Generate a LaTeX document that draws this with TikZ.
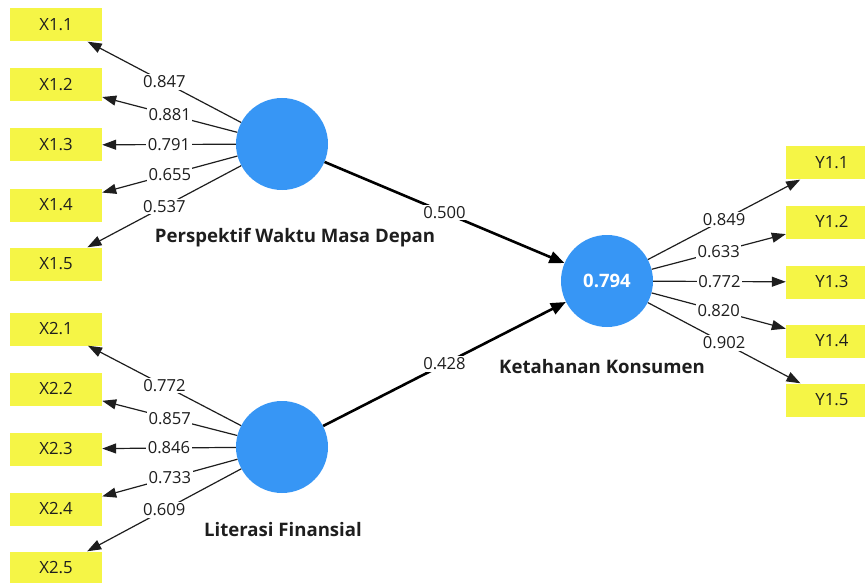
\documentclass[tikz,border=0pt]{standalone}
\usepackage{fontspec}
\setmainfont{Open Sans}
\usepackage{tikz}
\usepackage{xcolor}
\usetikzlibrary{arrows.meta,calc,positioning,shapes}
\definecolor{plsyellow}{RGB}{245,245,70}
\definecolor{plsblue}{RGB}{55,150,245}
\definecolor{plstext}{RGB}{30,30,30}
\tikzset{%
	indicator/.style = {fill=plsyellow, rectangle, minimum width=92pt, minimum height=33pt, text centered, text=plstext, font=\fontsize{16.8}{20}\selectfont},
	construct/.style = {fill=plsblue, circle, minimum size=92pt, inner sep=0pt, text=white, font=\bfseries\fontsize{18.5}{22}\selectfont},
	cname/.style     = {text=plstext, font=\bfseries\fontsize{18.6}{22}\selectfont},
	loading/.style   = {line width=1.2pt, draw=plstext, -{Triangle[length=14pt,width=10pt]}},
	path/.style      = {line width=2.6pt, draw=black, -{Triangle[length=15pt,width=12pt]}},
	coef/.style      = {midway, fill=white, inner sep=1.5pt, text=plstext, font=\fontsize{16.6}{20}\selectfont},
}
\begin{document}
\begin{tikzpicture}[x=1pt,y=-1pt]
	\useasboundingbox (0,0) rectangle (865,583);
	\clip (0,0) rectangle (865,583);
	% constructs
	\node[construct] (pwmd) at (282,144) {};
	\node[construct] (lf) at (282,447) {};
	\node[construct] (kk) at (607,281) {0.794};
	\node[cname] (pwmdname) at (295,238) {Perspektif Waktu Masa Depan};
	\node[cname] (lfname) at (283,530) {Literasi Finansial};
	\node[cname] (kkname) at (602,367) {Ketahanan Konsumen};
	% indicators
	\node[indicator] (x11) at (56,25) {X1.1};
	\node[indicator] (x12) at (56,85) {X1.2};
	\node[indicator] (x13) at (56,145) {X1.3};
	\node[indicator] (x14) at (56,205) {X1.4};
	\node[indicator] (x15) at (56,264) {X1.5};
	\node[indicator] (x21) at (56,329) {X2.1};
	\node[indicator] (x22) at (56,389) {X2.2};
	\node[indicator] (x23) at (56,449) {X2.3};
	\node[indicator] (x24) at (56,509) {X2.4};
	\node[indicator] (x25) at (56,568) {X2.5};
	\node[indicator] (y11) at (832,163) {Y1.1};
	\node[indicator] (y12) at (832,222) {Y1.2};
	\node[indicator] (y13) at (832,282) {Y1.3};
	\node[indicator] (y14) at (832,341) {Y1.4};
	\node[indicator] (y15) at (832,400) {Y1.5};
	% outer loadings
	\draw[loading] (pwmd) -- (x11) node[coef] {0.847};
	\draw[loading] (pwmd) -- (x12) node[coef] {0.881};
	\draw[loading] (pwmd) -- (x13) node[coef] {0.791};
	\draw[loading] (pwmd) -- (x14) node[coef] {0.655};
	\draw[loading] (pwmd) -- (x15) node[coef] {0.537};
	\draw[loading] (lf) -- (x21) node[coef] {0.772};
	\draw[loading] (lf) -- (x22) node[coef] {0.857};
	\draw[loading] (lf) -- (x23) node[coef] {0.846};
	\draw[loading] (lf) -- (x24) node[coef] {0.733};
	\draw[loading] (lf) -- (x25) node[coef] {0.609};
	\draw[loading] (kk) -- (y11) node[coef] {0.849};
	\draw[loading] (kk) -- (y12) node[coef] {0.633};
	\draw[loading] (kk) -- (y13) node[coef] {0.772};
	\draw[loading] (kk) -- (y14) node[coef] {0.820};
	\draw[loading] (kk) -- (y15) node[coef] {0.902};
	% path coefficients
	\draw[path] (pwmd) -- (kk) node[coef] {0.500};
	\draw[path] (lf) -- (kk) node[coef] {0.428};
\end{tikzpicture}
\end{document}
